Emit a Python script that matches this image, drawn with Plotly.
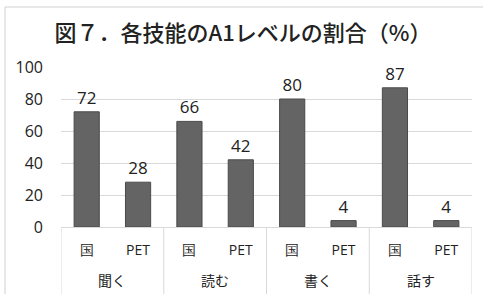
import plotly.graph_objects as go

group_names = ["聞く", "読む", "書く", "話す"]
sub_names = ["国", "PET"]
values = [72, 28, 66, 42, 80, 4, 87, 4]
y_ticks = [0, 20, 40, 60, 80, 100]
title_text = "図７．各技能のA1レベルの割合（%）"

font_cjk = "Noto Sans CJK JP, Noto Sans, sans-serif"
font_num = "Open Sans, Noto Sans, sans-serif"

keys = [f"{g}-{s}" for g in group_names for s in sub_names]
tick_text = [s for g in group_names for s in sub_names]

fig = go.Figure()
fig.add_trace(go.Bar(
    x=keys,
    y=values,
    text=[str(v) for v in values],
    textposition="outside",
    textfont=dict(size=17, color="#222222", family=font_num),
    marker=dict(color="#646464", line=dict(color="#4a4a4a", width=1)),
    width=0.49,
    cliponaxis=False,
))

n_sub = len(sub_names)
annotations = []
for gi, g in enumerate(group_names):
    annotations.append(dict(
        text=g, xref="x", yref="paper", x=gi * n_sub + (n_sub - 1) / 2, y=(227 - 280) / 160,
        xanchor="center", yanchor="middle", showarrow=False,
        font=dict(size=14, color="#222222", family=font_cjk)))

shapes = [dict(type="rect", xref="paper", yref="paper",
               x0=(5 - 61) / 411, x1=(495 - 61) / 411,
               y0=-0.6, y1=(227 - 7) / 160,
               line=dict(color="#d0d0d0", width=1), fillcolor="rgba(0,0,0,0)", layer="below")]
for gi in range(len(group_names) + 1):
    xb = gi * n_sub - 0.5
    shapes.append(dict(type="line", xref="x", yref="paper", x0=xb, x1=xb,
                       y0=0, y1=(227 - 300) / 160,
                       line=dict(color="#d9d9d9", width=1)))

fig.update_layout(
    width=483, height=294,
    margin=dict(l=61, r=11, t=67, b=67),
    paper_bgcolor="white", plot_bgcolor="white",
    showlegend=False,
    title=dict(text=title_text, x=(243) / 483, xanchor="center", y=1 - 33 / 294, yanchor="middle",
               font=dict(size=22, color="#222222", family=font_cjk, weight=500)),
    yaxis=dict(range=[0, 100], tickvals=y_ticks, showgrid=True, gridcolor="#d9d9d9",
               gridwidth=1, zeroline=False, showline=False, ticks="", automargin=False,
               tickfont=dict(size=16, color="#222222", family=font_num),
               ticklabelstandoff=17),
    xaxis=dict(type="category", categoryorder="array", categoryarray=keys,
               tickvals=keys, ticktext=tick_text,
               range=[-0.5, len(keys) - 0.5],
               showline=True, linecolor="#d9d9d9", linewidth=1, showgrid=False,
               automargin=False, ticks="",
               tickfont=dict(size=14, color="#222222", family=font_num),
               ticklabelstandoff=10),
    bargap=0.5,
    shapes=shapes,
    annotations=annotations,
)

fig.write_html("out.html", config={"displayModeBar": False},
               post_script="document.body.style.margin='0';document.body.style.padding='0';")
